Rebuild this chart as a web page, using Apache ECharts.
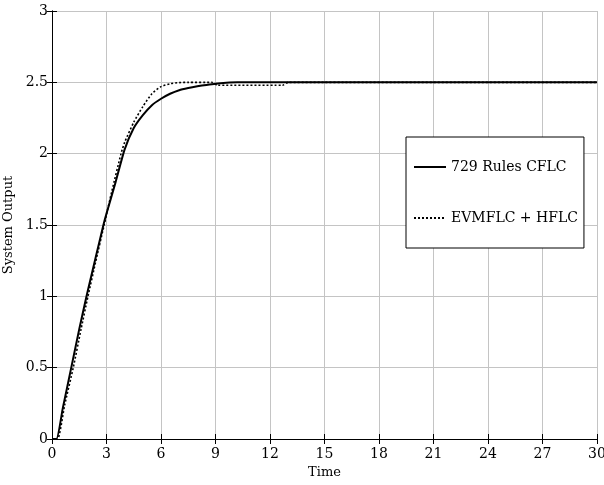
<!DOCTYPE html>
<html>
<head>
<meta charset="utf-8">
<script src="https://cdn.jsdelivr.net/npm/echarts@6/dist/echarts.min.js"></script>
<style>html,body{margin:0;padding:0;background:#fff}#c{width:604px;height:485px}</style>
</head>
<body>
<div id="c"></div>
<script>
var xTicks = [0, 3, 6, 9, 12, 15, 18, 21, 24, 27, 30];
var yTicks = [0, 0.5, 1, 1.5, 2, 2.5, 3];
var seriesNames = ['729 Rules CFLC', 'EVMFLC + HFLC'];
var cflcT = [0, 0.24, 0.6, 1.06, 1.5, 1.9, 2.4, 2.83, 3.0, 3.5, 4.0, 4.5, 5.0, 5.5, 6.0, 6.5, 7.0, 7.5, 8.0, 8.5, 9.0, 10.2, 30];
var cflcY = [0, 0, 0.22, 0.5, 0.77, 1.0, 1.27, 1.5, 1.58, 1.80, 2.03, 2.18, 2.27, 2.34, 2.385, 2.42, 2.445, 2.46, 2.472, 2.482, 2.49, 2.5, 2.5];
var hflcT = [0, 0.3, 0.7, 1.17, 1.6, 1.98, 2.4, 2.87, 3.3, 3.8, 4.0, 4.5, 5.0, 5.5, 6.0, 6.5, 7.0, 7.5, 8.8, 9.1, 12.7, 13, 30];
var hflcY = [0, 0, 0.24, 0.5, 0.77, 1.0, 1.24, 1.5, 1.74, 2.0, 2.08, 2.22, 2.33, 2.42, 2.47, 2.49, 2.498, 2.5, 2.5, 2.48, 2.48, 2.5, 2.5];

function pairs(t, y) { return t.map(function (v, i) { return [v, y[i]]; }); }

var FONT = 'DejaVu Serif';
var chart = echarts.init(document.getElementById('c'), null, { renderer: 'canvas' });
var axisLine = { show: true, lineStyle: { color: '#000', width: 1 } };
var tick = { show: true, inside: true, length: 5, lineStyle: { color: '#000' } };
chart.setOption({
  animation: false,
  backgroundColor: '#fff',
  grid: { left: 52, right: 7, top: 11, bottom: 46, containLabel: false, outerBoundsMode: 'none' },
  legend: {
    orient: 'vertical',
    left: 406, top: 137,
    padding: [22, 6, 22, 7],
    itemGap: 35,
    itemWidth: 32, itemHeight: 16,
    backgroundColor: '#fff',
    borderColor: '#000', borderWidth: 1,
    itemStyle: { opacity: 0, color: 'rgba(0,0,0,0)', borderWidth: 0 },
    textStyle: { fontFamily: FONT, fontSize: 14, color: '#000', lineHeight: 16 },
    data: seriesNames
  },
  xAxis: [{
    type: 'value', min: xTicks[0], max: xTicks[xTicks.length - 1], interval: 3,
    name: 'Time', nameLocation: 'middle', nameGap: 24,
    nameTextStyle: { fontFamily: FONT, fontSize: 13, color: '#000' },
    axisLine: axisLine, axisTick: tick,
    axisLabel: { fontFamily: FONT, fontSize: 14, color: '#000', margin: 8 },
    splitLine: { show: true, lineStyle: { color: '#c4c4c4', width: 1 } }
  }, {
    type: 'value', position: 'top', min: xTicks[0], max: xTicks[xTicks.length - 1], interval: 3,
    axisLine: axisLine, axisTick: tick, axisLabel: { show: false }, splitLine: { show: false }
  }],
  yAxis: [{
    type: 'value', min: yTicks[0], max: yTicks[yTicks.length - 1], interval: 0.5,
    name: 'System Output', nameLocation: 'middle', nameGap: 31,
    nameTextStyle: { fontFamily: FONT, fontSize: 13, color: '#000' },
    axisLine: axisLine, axisTick: tick,
    axisLabel: { fontFamily: FONT, fontSize: 14, color: '#000', margin: 4 },
    splitLine: { show: true, lineStyle: { color: '#c4c4c4', width: 1 } }
  }, {
    type: 'value', position: 'right', min: yTicks[0], max: yTicks[yTicks.length - 1], interval: 0.5,
    axisLine: axisLine, axisTick: tick, axisLabel: { show: false }, splitLine: { show: false }
  }],
  series: [{
    name: seriesNames[0], type: 'line', data: pairs(cflcT, cflcY),
    symbol: 'none', smooth: 0.2,
    lineStyle: { color: '#000', width: 2, type: 'solid' },
    itemStyle: { color: '#000' }
  }, {
    name: seriesNames[1], type: 'line', data: pairs(hflcT, hflcY),
    symbol: 'none', smooth: 0.2,
    lineStyle: { color: '#000', width: 1.6, type: [2, 2] },
    itemStyle: { color: '#000' }
  }]
});
</script>
</body>
</html>
